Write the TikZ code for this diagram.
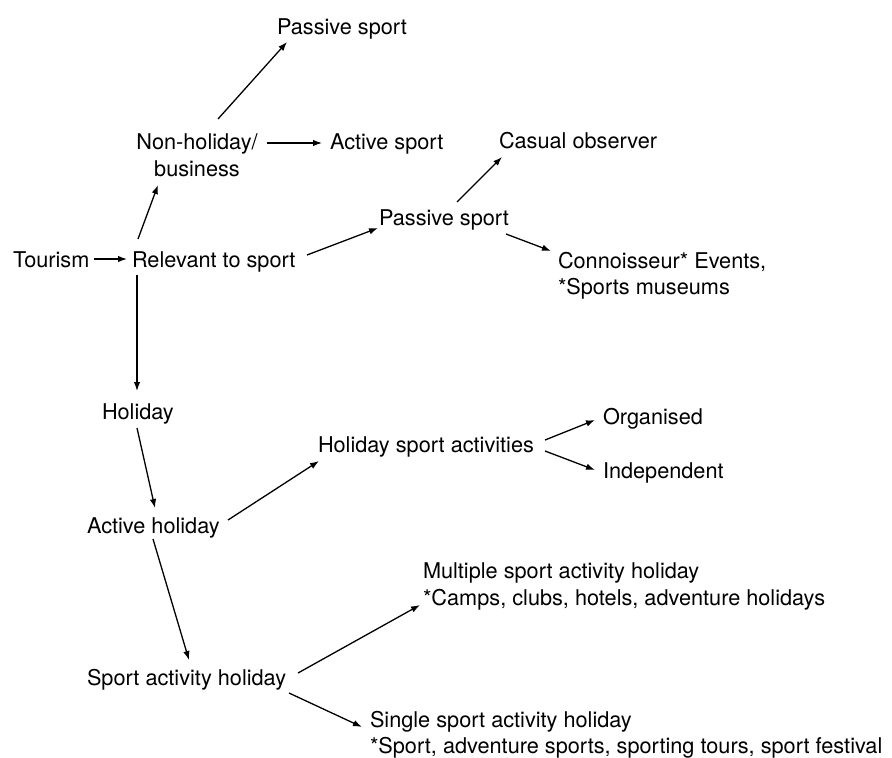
\documentclass[tikz,border=0pt]{standalone}
\usepackage{fontspec}
\setmainfont{TeX Gyre Heros}
\usetikzlibrary{arrows.meta}
\begin{document}
\begin{tikzpicture}[x=1pt,y=-1pt,
  lbl/.style={inner sep=0pt,outer sep=0pt,font=\fontsize{21.7}{26.5}\selectfont,anchor=base west},
  mlbl/.style={inner sep=0pt,outer sep=0pt,font=\fontsize{21.7}{26.5}\selectfont,align=left,anchor=north west},
  arr/.style={line width=1.3pt,-{Latex[length=9pt,width=6.5pt]}}]
\path[use as bounding box,fill=white] (0,0) rectangle (892,758);
% nodes
\node[lbl] (passtop) at (277,34) {Passive sport};
\node[inner sep=0pt,outer sep=0pt,font=\fontsize{21.7}{26.5}\selectfont,align=center,anchor=north] (nonhol) at (197,134) {Non-holiday/\\business};
\node[lbl] (act1) at (330,149) {Active sport};
\node[lbl] (tour) at (13,267) {Tourism};
\node[lbl] (rel) at (132,267) {Relevant to sport};
\node[lbl] (passmid) at (379,225) {Passive sport};
\node[lbl] (casual) at (499,148) {Casual observer};
\node[mlbl] (conn) at (558,252) {Connoisseur* Events,\\*Sports museums};
\node[lbl] (holiday) at (102,419) {Holiday};
\node[lbl] (hsa) at (318,452) {Holiday sport activities};
\node[lbl] (org) at (603,424) {Organised};
\node[lbl] (ind) at (603,478) {Independent};
\node[lbl] (acthol) at (87,533) {Active holiday};
\node[mlbl] (multi) at (423,563) {Multiple sport activity holiday\\*Camps, clubs, hotels, adventure holidays};
\node[lbl] (sah) at (87,685) {Sport activity holiday};
\node[mlbl] (single) at (370,711) {Single sport activity holiday\\*Sport, adventure sports, sporting tours, sport festival};
% connectors
\draw[arr] ([shift={(21,-15)}]nonhol.north) -- ([shift={(10,8)}]passtop.base west);
\draw[arr] ([shift={(70,9)}]nonhol.north) -- ([shift={(-8,-6)}]act1.base west);
\draw[arr] ([shift={(81,-8)}]tour.base west) -- ([shift={(-5,-8)}]rel.base west);
\draw[arr] ([shift={(6,-28)}]rel.base west) -- ([shift={(-39,51)}]nonhol.north);
\draw[arr] ([shift={(175,-12)}]rel.base west) -- ([shift={(-1,3)}]passmid.base west);
\draw[arr] ([shift={(5,8)}]rel.base west) -- ([shift={(35,-28)}]holiday.base west);
\draw[arr] ([shift={(78,-23)}]passmid.base west) -- ([shift={(3,9)}]casual.base west);
\draw[arr] ([shift={(127,9)}]passmid.base west) -- ([shift={(-7,-1)}]conn.north west);
\draw[arr] ([shift={(35,9)}]holiday.base west) -- ([shift={(68,-25)}]acthol.base west);
\draw[arr] ([shift={(141,-13)}]acthol.base west) -- ([shift={(1,9)}]hsa.base west);
\draw[arr] ([shift={(66,6)}]acthol.base west) -- ([shift={(102,-25)}]sah.base west);
\draw[arr] ([shift={(227,-12)}]hsa.base west) -- ([shift={(-8,-4)}]org.base west);
\draw[arr] ([shift={(227,-1)}]hsa.base west) -- ([shift={(-8,-8)}]ind.base west);
\draw[arr] ([shift={(211,-12)}]sah.base west) -- ([shift={(-3,42)}]multi.north west);
\draw[arr] ([shift={(202,8)}]sah.base west) -- ([shift={(-8,16)}]single.north west);
\end{tikzpicture}
\end{document}
